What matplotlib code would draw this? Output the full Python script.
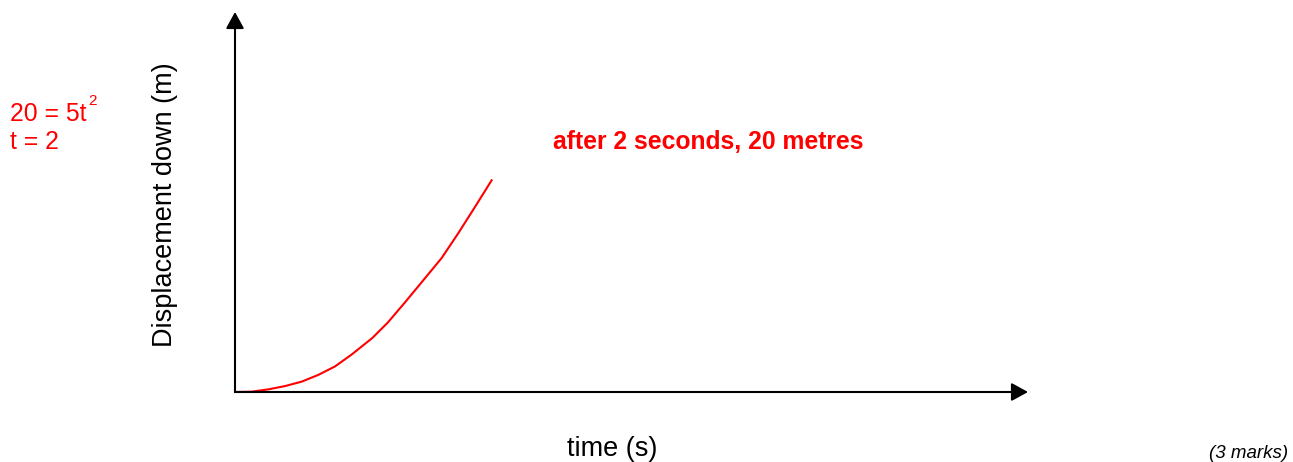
import matplotlib.pyplot as plt

plt.rcParams['font.family'] = ['Liberation Sans', 'DejaVu Sans']

# Datos (tiempo en s, desplazamiento en m)
time_s = [0.0, 0.13, 0.26, 0.39, 0.52, 0.65, 0.78, 0.91, 1.07, 1.19,
          1.32, 1.45, 1.61, 1.74, 1.87, 2.00]
displacement_m = [0.0, 0.03, 0.25, 0.56, 0.98, 1.62, 2.42, 3.55, 5.10, 6.55,
                  8.40, 10.30, 12.65, 15.0, 17.48, 20.0]

W, H = 1293, 462
fig = plt.figure(figsize=(W / 100, H / 100), dpi=100)

# Ejes colocados en píxeles: origen en (235, 392), flechas hasta x=1028 y y=12
ax = fig.add_axes([235 / W, (H - 392) / H, (1028 - 235) / W, (392 - 12) / H])
ax.set_xlim(0, 6.18)
ax.set_ylim(0, 35.9)
ax.axis('off')

ax.plot(time_s, displacement_m, color='#ff0000', lw=1.5, clip_on=False,
        solid_joinstyle='round')

# Ejes con flechas
arrow = dict(arrowstyle='-|>,head_length=1.0,head_width=0.55', color='black',
             lw=1.5, shrinkA=0, shrinkB=0)
ax.annotate('', xy=(0, 1), xytext=(0, 0), xycoords='axes fraction',
            arrowprops=arrow)
ax.annotate('', xy=(1, 0), xytext=(0, 0), xycoords='axes fraction',
            arrowprops=arrow)

# Textos
fig.text(165 / W, 1 - 205 / H, 'Displacement down (m)', rotation=90,
         ha='center', va='center', fontsize=19.5)
fig.text(612 / W, 1 - 449 / H, 'time (s)', ha='center', va='center',
         fontsize=19.5)
fig.text(708 / W, 1 - 142 / H, 'after 2 seconds, 20 metres', ha='center',
         va='center', fontsize=17.8, fontweight='bold', color='#ff0000')
fig.text(10 / W, 1 - 114 / H, '20 = 5t', ha='left', va='center',
         fontsize=17.8, color='#ff0000')
fig.text(88 / W, 1 - 101 / H, '2', ha='left', va='center',
         fontsize=11, color='#ff0000')
fig.text(10 / W, 1 - 142 / H, 't = 2', ha='left', va='center',
         fontsize=17.8, color='#ff0000')
fig.text(1288 / W, 1 - 453 / H, '(3 marks)', ha='right', va='center',
         fontsize=13.5, style='italic')

plt.savefig('out.png', dpi=100)
